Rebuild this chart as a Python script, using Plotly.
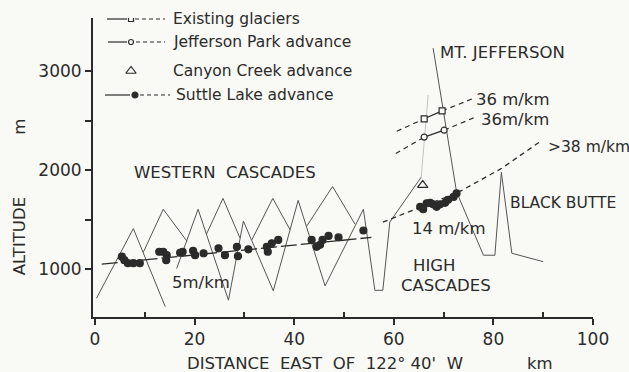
import plotly.graph_objects as go

# ---------------- data: distance east of 122°40'W (km), altitude (m) ----------------
ridge_a_km, ridge_a_alt = [0.3, 7.7, 14.1], [705, 1410, 620]
ridge_b_km, ridge_b_alt = [9.7, 13.7, 18.5], [1170, 1605, 1280]
ridge_c_km, ridge_c_alt = [16.4, 20.7, 26.8], [1005, 1605, 685]
ridge_d_km, ridge_d_alt = [22.4, 25.7, 29.1], [1355, 1715, 1315]
ridge_e_km, ridge_e_alt = [26.8, 29.8, 35.8], [685, 1485, 780]
ridge_f_km, ridge_f_alt = [31.5, 35.7, 39.2], [1295, 1715, 1395]
ridge_g_km, ridge_g_alt = [35.8, 40.8, 46.2], [780, 1695, 830]
ridge_h_km, ridge_h_alt = [42.4, 47.7, 52.2], [1425, 1835, 1455]
high_west_km = [46.2, 53.9, 56.2, 57.8, 59.2, 65.5]
high_west_alt = [830, 1605, 785, 785, 1475, 1930]
hidden_km, hidden_alt = [65.5, 66.9], [1930, 2760]
high_east_km = [67.9, 72.6, 78.0, 80.3, 81.6, 83.7, 90.0]
high_east_alt = [3235, 1780, 1140, 1140, 1980, 1160, 1075]

# Suttle Lake advance, Western Cascades
suttle_w_km = [5.4, 5.9, 6.6, 7.7, 9.0, 12.9, 13.7, 14.4, 14.3, 17.1, 17.6, 19.7, 20.1,
               21.8, 24.8, 26.1, 28.5, 28.7, 30.8, 34.5, 34.7, 35.5, 36.8, 43.5, 44.5,
               45.2, 45.7, 46.9, 48.9, 53.9]
suttle_w_alt = [1125, 1090, 1060, 1060, 1060, 1175, 1175, 1140, 1090, 1165, 1175, 1185, 1140,
                1160, 1210, 1140, 1225, 1130, 1200, 1225, 1175, 1260, 1295, 1295, 1225,
                1245, 1295, 1335, 1320, 1390]
suttle_w_fit_km, suttle_w_fit_alt = [1.35, 55.5], [1050, 1320]
# Suttle Lake advance, High Cascades
suttle_h_km = [65.3, 65.9, 66.6, 67.3, 67.9, 68.6, 69.3, 70.3, 70.9, 72.0, 72.6]
suttle_h_alt = [1630, 1605, 1665, 1670, 1655, 1630, 1655, 1670, 1700, 1730, 1765]
suttle_h_fit_km = [57.8, 65.3, 72.9, 81.7, 89.4]
suttle_h_fit_alt = [1475, 1625, 1775, 2020, 2290]

# Existing glaciers
glacier_km, glacier_alt = [66.1, 69.7], [2520, 2600]
glacier_ext_km, glacier_ext_alt = [60.6, 75.9], [2395, 2725]
# Jefferson Park advance
jpark_km, jpark_alt = [66.1, 70.1], [2335, 2405]
jpark_ext_km, jpark_ext_alt = [60.4, 76.3], [2170, 2535]
# Canyon Creek advance
canyon_km, canyon_alt = [65.8], [1850]

x_ticks = [0, 20, 40, 60, 80, 100]
y_ticks = [1000, 2000, 3000]

# ---------------- style ----------------
INK = "#2b2b2b"
PROF = "#555555"
BG = "#f9f9f5"
FONT = "DejaVu Sans"
DASH = "5px,4px"

fig = go.Figure()

def line(xs, ys, color=PROF, width=1.0, dash="solid", xa="x", ya="y"):
    fig.add_trace(go.Scatter(x=xs, y=ys, mode="lines", xaxis=xa, yaxis=ya,
                             line=dict(color=color, width=width, dash=dash),
                             showlegend=False, hoverinfo="skip"))

def pts(xs, ys, symbol, size, filled=True, xa="x", ya="y"):
    fig.add_trace(go.Scatter(x=xs, y=ys, mode="markers", xaxis=xa, yaxis=ya,
                             marker=dict(symbol=symbol, size=size,
                                         color=INK if filled else BG,
                                         line=dict(color=INK, width=1.2)),
                             showlegend=False, hoverinfo="skip"))

# terrain profiles
for xs, ys in [(ridge_a_km, ridge_a_alt), (ridge_b_km, ridge_b_alt), (ridge_c_km, ridge_c_alt),
               (ridge_d_km, ridge_d_alt), (ridge_e_km, ridge_e_alt), (ridge_f_km, ridge_f_alt),
               (ridge_g_km, ridge_g_alt), (ridge_h_km, ridge_h_alt),
               (high_west_km, high_west_alt), (high_east_km, high_east_alt)]:
    line(xs, ys)
line(hidden_km, hidden_alt, color="#b5b5b5", width=0.8)

# Suttle Lake
line(suttle_w_fit_km, suttle_w_fit_alt, color=INK, width=1.3, dash="16px,4px")
line(suttle_h_fit_km, suttle_h_fit_alt, color=INK, width=1.3, dash=DASH)
pts(suttle_w_km, suttle_w_alt, "circle", 7)
pts(suttle_h_km, suttle_h_alt, "circle", 7)

# Existing glaciers
line([glacier_ext_km[0], glacier_km[0]], [glacier_ext_alt[0], glacier_alt[0]], color=INK, width=1.2, dash=DASH)
line(glacier_km, glacier_alt, color=INK, width=1.2)
line([glacier_km[1], glacier_ext_km[1]], [glacier_alt[1], glacier_ext_alt[1]], color=INK, width=1.2, dash=DASH)
pts(glacier_km, glacier_alt, "square", 6, filled=False)

# Jefferson Park
line([jpark_ext_km[0], jpark_km[0]], [jpark_ext_alt[0], jpark_alt[0]], color=INK, width=1.2, dash=DASH)
line(jpark_km, jpark_alt, color=INK, width=1.2)
line([jpark_km[1], jpark_ext_km[1]], [jpark_alt[1], jpark_ext_alt[1]], color=INK, width=1.2, dash=DASH)
pts(jpark_km, jpark_alt, "circle", 6, filled=False)

# Canyon Creek
pts(canyon_km, canyon_alt, "triangle-up", 9, filled=False)

# ---------------- legend (drawn on a hidden pixel-space overlay) ----------------
leg_rows = [  # (y, solid start, solid end, marker x, dash start, dash end, symbol, filled, text x, label)
    (19, 107, 127, 131, 135, 165, "square", False, 171, "Existing glaciers"),
    (42, 108, 127, 131, 136, 165, "circle", False, 171, "Jefferson Park advance"),
    (71, None, None, 131, None, None, "triangle-up", False, 171, "Canyon Creek advance"),
    (95, 105, 130, 135, 140, 170, "circle", True, 174, "Suttle Lake advance"),
]
annotations = []
for (yy, s0, s1, mx, d0, d1, sym, filled, tx, label) in leg_rows:
    if s0 is not None:
        line([s0, s1], [yy, yy], color=INK, width=1.2, xa="x2", ya="y2")
        line([d0, d1], [yy, yy], color=INK, width=1.2, dash="4px,3px", xa="x2", ya="y2")
    size = 9 if sym == "triangle-up" else (6 if filled else 5)
    pts([mx], [yy], sym, size, filled=filled, xa="x2", ya="y2")
    annotations.append(dict(x=tx, y=yy, xref="x2", yref="y2", text=label, showarrow=False,
                            xanchor="left", yanchor="middle",
                            font=dict(family=FONT, size=15.5, color=INK)))

# ---------------- labels ----------------
def lab(x, y, text, anchor="left", size=16.5):
    annotations.append(dict(x=x, y=y, xref="x", yref="y", text=text, showarrow=False,
                            xanchor=anchor, yanchor="middle",
                            font=dict(family=FONT, size=size, color=INK)))

lab(26.1, 1975, "WESTERN  CASCADES", "center")
lab(68.9, 3196, "MT. JEFFERSON", "left")
lab(76.2, 2712, "36 m/km", "left")
lab(77.2, 2518, "36m/km", "left")
lab(90.6, 2235, "&gt;38 m/km", "left", 15.5)
lab(83.0, 1668, "BLACK BUTTE", "left", 15.5)
lab(63.3, 1415, "14 m/km", "left")
lab(68.1, 1040, "HIGH", "center")
lab(70.5, 838, "CASCADES", "center")
lab(15.0, 868, "5m/km", "left")

annotations.append(dict(x=-0.147, y=0.268, xref="paper", yref="paper", text="ALTITUDE",
                        textangle=-90, showarrow=False, xanchor="center", yanchor="middle",
                        font=dict(family=FONT, size=16.5, color=INK)))
annotations.append(dict(x=-0.147, y=0.635, xref="paper", yref="paper", text="m",
                        textangle=-90, showarrow=False, xanchor="center", yanchor="middle",
                        font=dict(family=FONT, size=16.5, color=INK)))
annotations.append(dict(x=0.4645, y=-0.154, xref="paper", yref="paper",
                        text="DISTANCE  EAST  OF  122° 40'  W", showarrow=False,
                        xanchor="center", yanchor="middle",
                        font=dict(family=FONT, size=16.5, color=INK)))
annotations.append(dict(x=0.894, y=-0.154, xref="paper", yref="paper", text="km",
                        showarrow=False, xanchor="center", yanchor="middle",
                        font=dict(family=FONT, size=16.5, color=INK)))

fig.update_layout(
    width=629, height=372, autosize=False,
    margin=dict(l=93, r=36, t=18, b=55, pad=0),
    paper_bgcolor=BG, plot_bgcolor=BG,
    showlegend=False,
    annotations=annotations,
    xaxis=dict(range=[-0.4, 100], showgrid=False, zeroline=False,
               showline=True, linecolor=INK, linewidth=2,
               tickmode="array", tickvals=x_ticks, ticktext=[str(v) for v in x_ticks],
               ticks="outside", ticklen=6, tickwidth=1.5, tickcolor=INK,
               tickfont=dict(family=FONT, size=17, color=INK),
               minor=dict(tickmode="array", tickvals=[10, 30, 50, 70, 90],
                          ticks="inside", ticklen=5, tickwidth=1.5, tickcolor=INK)),
    yaxis=dict(range=[515, 3540], showgrid=False, zeroline=False,
               showline=True, linecolor=INK, linewidth=2,
               tickmode="array", tickvals=y_ticks, ticktext=[str(v) for v in y_ticks],
               ticks="outside", ticklen=6, tickwidth=1.5, tickcolor=INK,
               tickfont=dict(family=FONT, size=17, color=INK),
               minor=dict(tickmode="array", tickvals=[1500, 2500],
                          ticks="outside", ticklen=6, tickwidth=1.5, tickcolor=INK)),
    xaxis2=dict(range=[93, 593], overlaying="x", visible=False),
    yaxis2=dict(range=[317, 18], overlaying="y", visible=False),
)

fig.write_html("out.html", config={"displayModeBar": False},
               post_script="document.body.style.margin='0';document.body.style.background='%s';" % BG)
